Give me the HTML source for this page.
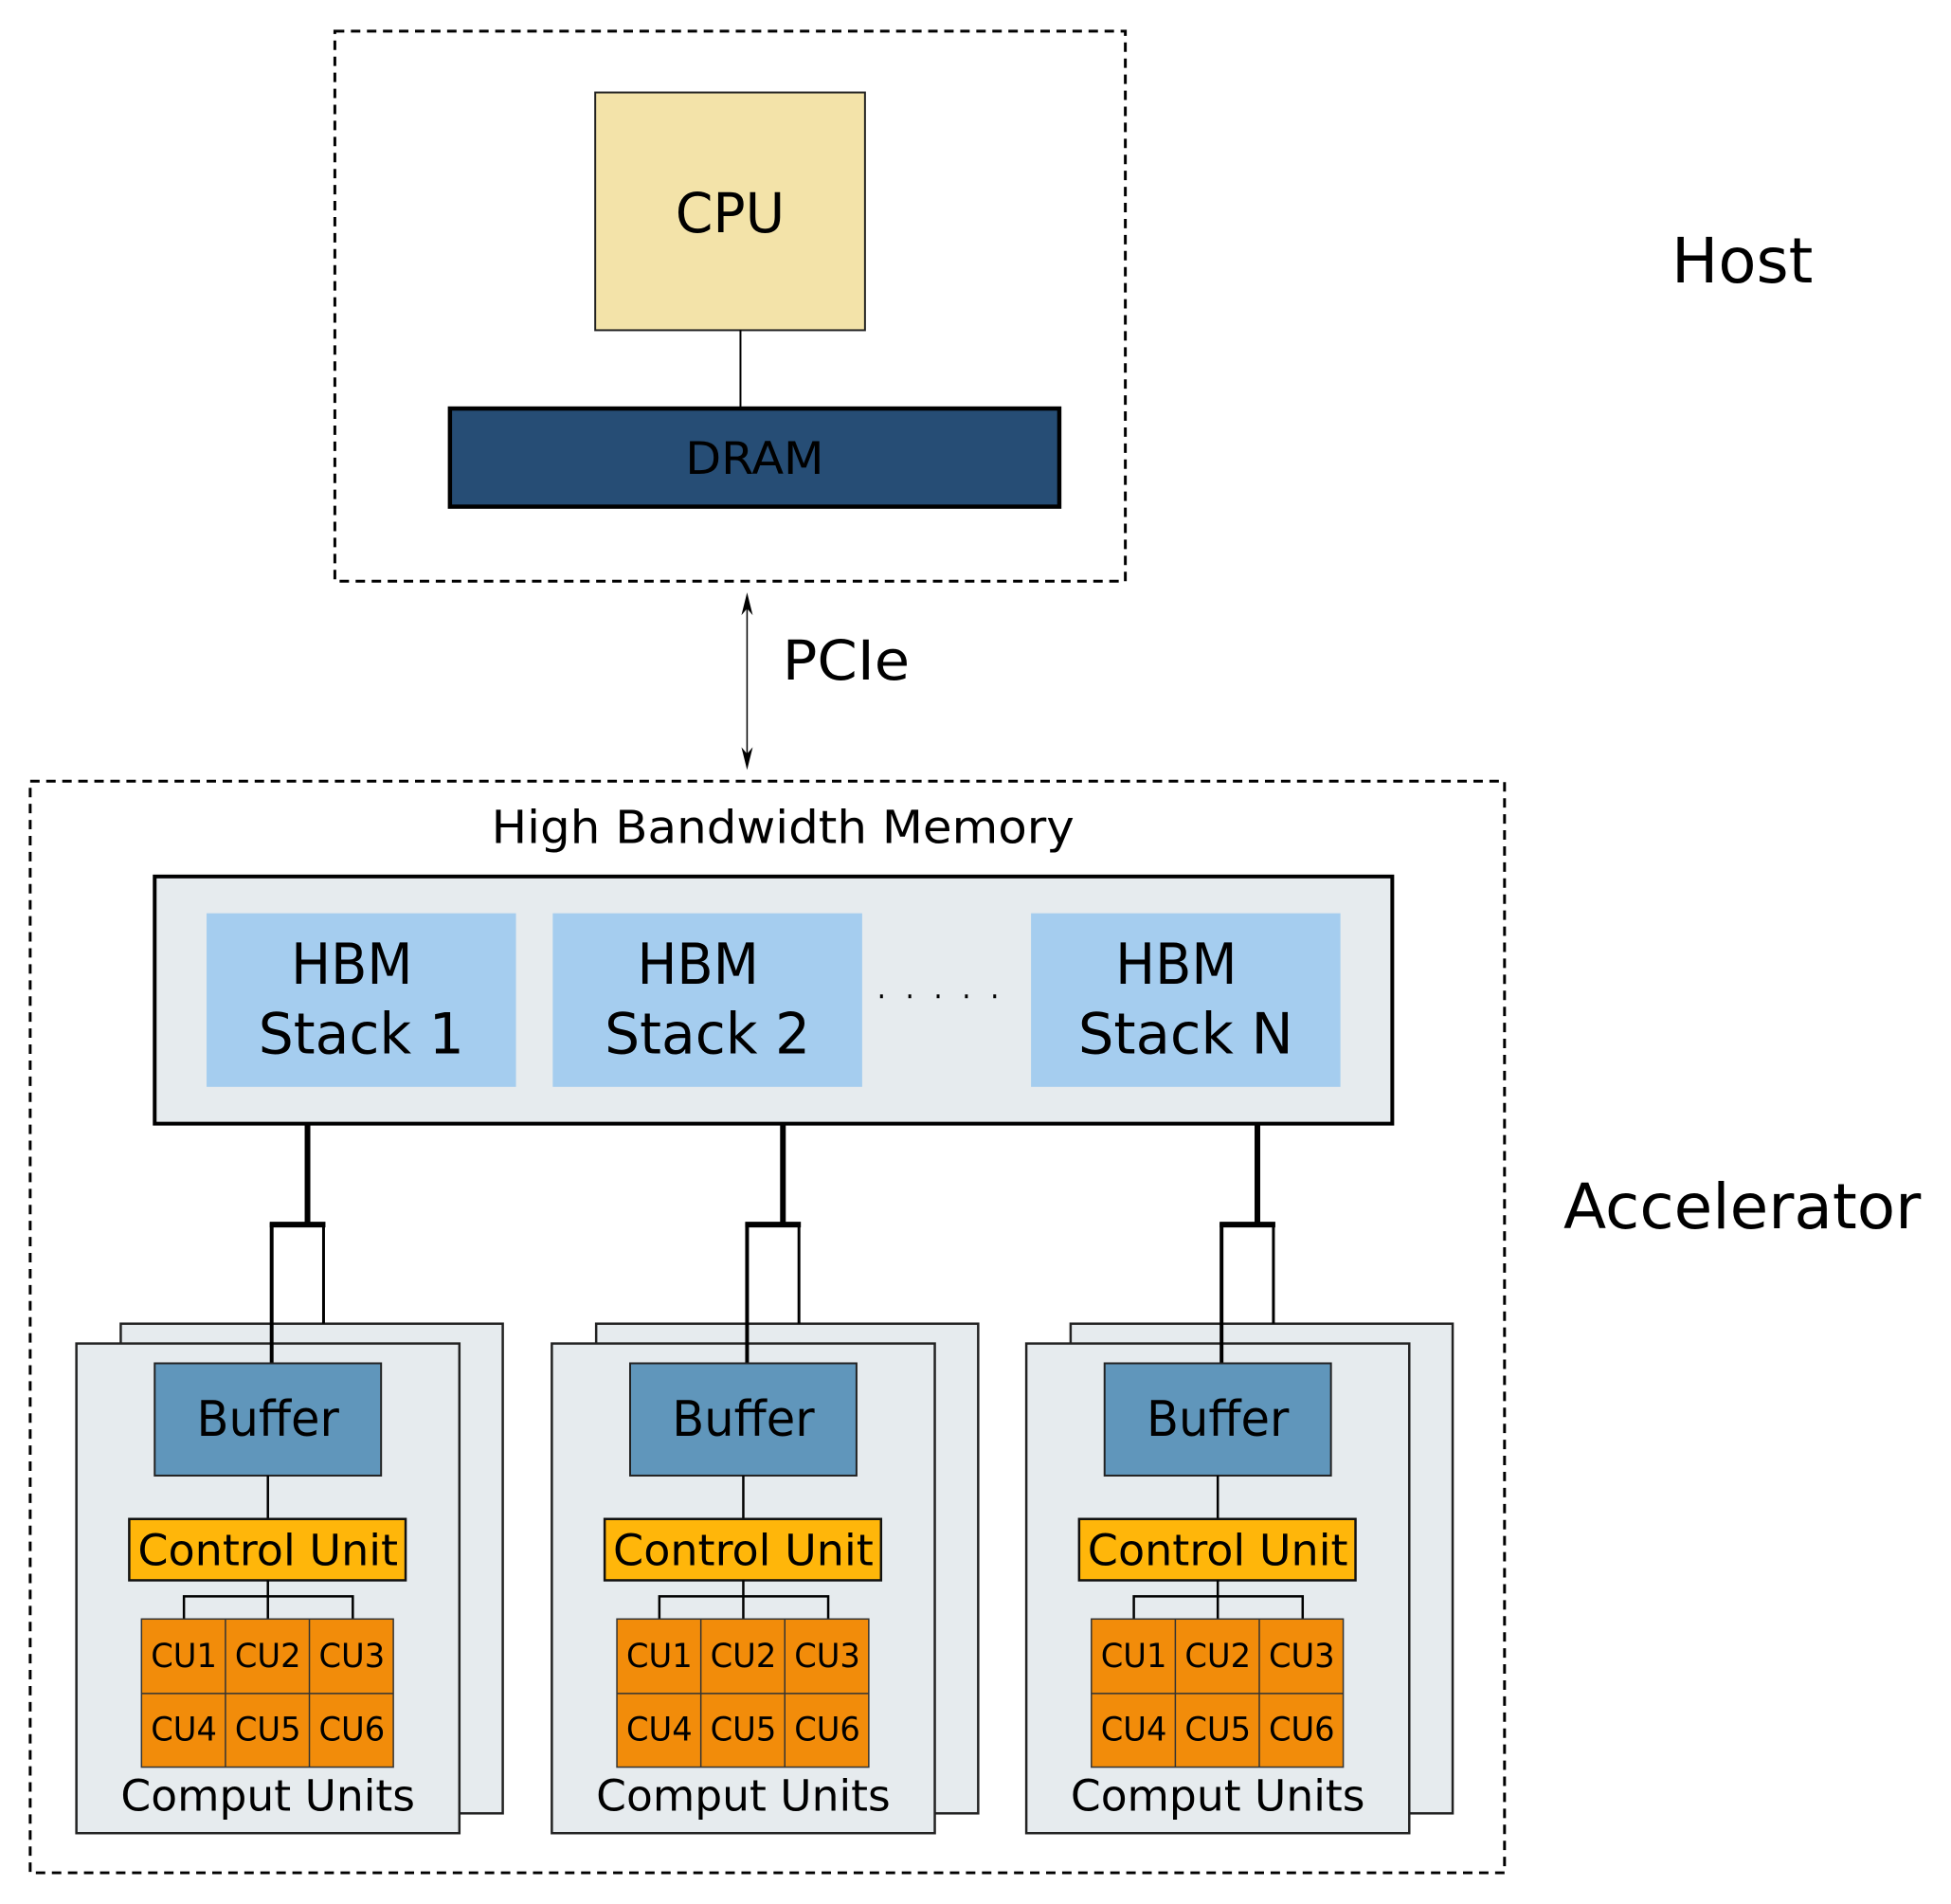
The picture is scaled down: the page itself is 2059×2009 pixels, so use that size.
<!DOCTYPE html>
<html><head><meta charset="utf-8"><style>
html,body{margin:0;padding:0;background:#fff;}
svg{display:block;}
text{font-family:"DejaVu Sans","Liberation Sans",sans-serif;fill:#000;}
</style></head><body>
<svg width="2059" height="2009" viewBox="0 0 2059 2009" xmlns="http://www.w3.org/2000/svg">
<g transform="scale(0.9955)">
<!-- Host -->
<rect x="355" y="33" width="838" height="583" fill="none" stroke="#000" stroke-width="3" stroke-dasharray="10,7"/>
<rect x="631" y="98" width="286" height="252" fill="#f3e3a9" stroke="#222" stroke-width="2"/>
<text x="774" y="226" font-size="58" text-anchor="middle" dominant-baseline="central" textLength="116" lengthAdjust="spacingAndGlyphs">CPU</text>
<line x1="785" y1="350" x2="785" y2="431" stroke="#000" stroke-width="2"/>
<rect x="477" y="433" width="646" height="104" fill="#264d75" stroke="#000" stroke-width="4.5"/>
<text x="800" y="487" font-size="47" text-anchor="middle" dominant-baseline="central" textLength="147" lengthAdjust="spacingAndGlyphs">DRAM</text>
<text x="1847" y="277" font-size="66" text-anchor="middle" dominant-baseline="central" textLength="150" lengthAdjust="spacingAndGlyphs">Host</text>
<!-- PCIe -->
<line x1="792" y1="634" x2="792" y2="810" stroke="#000" stroke-width="1.5"/>
<path d="M792,628 L786,652 L792,645 L798,652 Z" fill="#000"/>
<path d="M792,816 L786,792 L792,799 L798,792 Z" fill="#000"/>
<text x="897" y="700" font-size="58" text-anchor="middle" dominant-baseline="central" textLength="135" lengthAdjust="spacingAndGlyphs">PCIe</text>
<!-- Accelerator -->
<rect x="32" y="828" width="1563" height="1157" fill="none" stroke="#000" stroke-width="3" stroke-dasharray="10,7"/>
<text x="1847" y="1280" font-size="66" text-anchor="middle" dominant-baseline="central" textLength="379" lengthAdjust="spacingAndGlyphs">Accelerator</text>
<text x="830" y="878" font-size="48" text-anchor="middle" dominant-baseline="central" textLength="618" lengthAdjust="spacingAndGlyphs">High Bandwidth Memory</text>
<rect x="164" y="929" width="1312" height="262" fill="#e6ebee" stroke="#000" stroke-width="4"/>
<rect x="219" y="968" width="328" height="184" fill="#a5cdef"/>
<rect x="586" y="968" width="328" height="184" fill="#a5cdef"/>
<rect x="1093" y="968" width="328" height="184" fill="#a5cdef"/>
<g font-size="60" text-anchor="middle" dominant-baseline="central">
<text x="373" y="1023" textLength="129" lengthAdjust="spacingAndGlyphs">HBM</text>
<text x="383" y="1097" textLength="218" lengthAdjust="spacingAndGlyphs">Stack 1</text>
<text x="740" y="1023" textLength="129" lengthAdjust="spacingAndGlyphs">HBM</text>
<text x="750" y="1097" textLength="218" lengthAdjust="spacingAndGlyphs">Stack 2</text>
<text x="1247" y="1023" textLength="129" lengthAdjust="spacingAndGlyphs">HBM</text>
<text x="1257" y="1097" textLength="228" lengthAdjust="spacingAndGlyphs">Stack N</text>
</g>
<g fill="#000">
<rect x="933" y="1054" width="3" height="4"/><rect x="963" y="1054" width="3" height="4"/><rect x="993" y="1054" width="3" height="4"/><rect x="1023" y="1054" width="3" height="4"/><rect x="1053" y="1054" width="3" height="4"/>
</g>

<g id="col">
<line x1="326" y1="1191" x2="326" y2="1298" stroke="#000" stroke-width="6"/>
<rect x="128" y="1403" width="405" height="519" fill="#e6ebee" stroke="#222" stroke-width="2.5"/>
<rect x="81" y="1424" width="406" height="519" fill="#e6ebee" stroke="#222" stroke-width="2.5"/>
<line x1="343" y1="1296" x2="343" y2="1403" stroke="#000" stroke-width="3"/>
<line x1="288" y1="1296" x2="288" y2="1445" stroke="#000" stroke-width="4"/>
<line x1="286" y1="1298" x2="345" y2="1298" stroke="#000" stroke-width="6"/>
<rect x="164" y="1445" width="240" height="119" fill="#6096bb" stroke="#222" stroke-width="2"/>
<text x="284" y="1505" font-size="52" text-anchor="middle" dominant-baseline="central" textLength="151" lengthAdjust="spacingAndGlyphs">Buffer</text>
<line x1="284" y1="1564" x2="284" y2="1610" stroke="#000" stroke-width="2.5"/>
<rect x="137" y="1610" width="293" height="65" fill="#ffb60a" stroke="#111" stroke-width="2.5"/>
<text x="284" y="1643" font-size="46" text-anchor="middle" dominant-baseline="central" textLength="276" lengthAdjust="spacingAndGlyphs">Control Unit</text>
<path d="M284,1675 V1716 M195,1716 V1692 H374 V1716" fill="none" stroke="#000" stroke-width="2.5"/>
<rect x="150" y="1716" width="267" height="157" fill="#f28c0a" stroke="#333" stroke-width="1.5"/>
<path d="M239,1716 V1873 M328,1716 V1873 M150,1795 H417" stroke="#333" stroke-width="1.5"/>
<g font-size="35" text-anchor="middle" dominant-baseline="central">
<text x="195" y="1756" textLength="70" lengthAdjust="spacingAndGlyphs">CU1</text>
<text x="284" y="1756" textLength="70" lengthAdjust="spacingAndGlyphs">CU2</text>
<text x="373" y="1756" textLength="70" lengthAdjust="spacingAndGlyphs">CU3</text>
<text x="195" y="1834" textLength="70" lengthAdjust="spacingAndGlyphs">CU4</text>
<text x="284" y="1834" textLength="70" lengthAdjust="spacingAndGlyphs">CU5</text>
<text x="373" y="1834" textLength="70" lengthAdjust="spacingAndGlyphs">CU6</text>
</g>
<text x="284" y="1903" font-size="46" text-anchor="middle" dominant-baseline="central" textLength="312" lengthAdjust="spacingAndGlyphs">Comput Units</text>
</g>
<use href="#col" transform="translate(504,0)"/>
<use href="#col" transform="translate(1007,0)"/>
</g>
</svg>
</body></html>
